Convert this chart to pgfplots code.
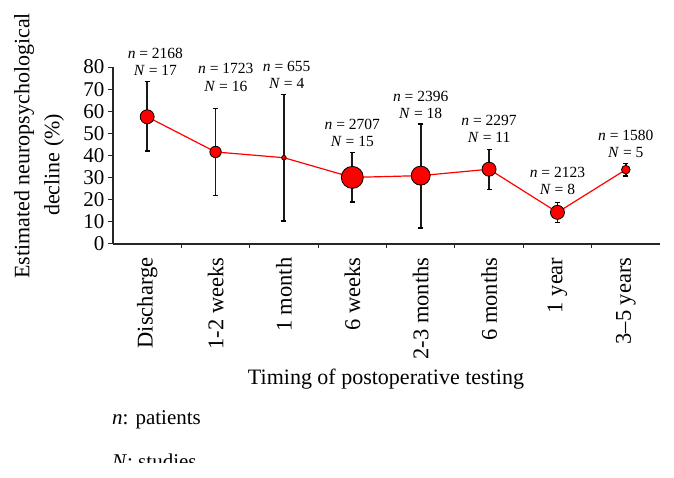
\documentclass[border=0pt]{standalone}
\usepackage{fontspec}
\setmainfont{Liberation Serif}
\usepackage{pgfplots}
\pgfplotsset{compat=1.18}
\usepackage{pgfplotstable}

% x = category index, y = estimate, ep/em = error bar plus/minus, r = marker radius
\pgfplotstableread{
x y    ep   em   r
0 57.5 16.0 15.5 7.0
1 41.6 19.7 19.8 5.7
2 39.0 28.7 28.6 2.3
3 30.1 11.3 11.1 11.0
4 30.9 23.3 23.7 9.5
5 33.8 8.8  9.1  7.0
6 14.3 4.4  4.5  7.0
7 33.6 2.9  2.9  4.3
}\declinedata

\begin{document}
\begin{tikzpicture}
\begin{axis}[
    at={(0,0)}, anchor=south west, scale only axis,
    width=547pt, height=177pt,
    xmin=-0.5, xmax=7.5, ymin=0, ymax=80,
    axis x line=bottom, axis y line=left,
    axis line style={-, line width=1.2pt, black!85},
    clip=false,
    ytick={0,10,...,80},
    xtick={0,...,7},
    xticklabels={Discharge, 1-2 weeks, 1 month, 6 weeks, 2-3 months, 6 months, 1 year, 3--5 years},
    minor xtick={0.5,1.5,...,6.5},
    major x tick style={draw=none},
    tick align=outside,
    major tick length=5pt, minor tick length=4pt,
    tick style={line width=1pt, black!85},
    /pgf/number format/assume math mode=true,
    yticklabel style={font=\fontsize{21}{24}\selectfont},
    xticklabel style={rotate=90, anchor=east, font=\fontsize{22.5}{24}\selectfont},
    xticklabel shift=5pt,
]
\addplot[red, line width=1.2pt, mark=*, scatter, point meta=explicit,
    scatter/use mapped color={draw=black, fill=red},
    mark options={line width=0.8pt},
    visualization depends on={\thisrow{r} \as \rad},
    scatter/@pre marker code/.append style={/tikz/mark size=\rad},
    error bars/.cd, y dir=both, y explicit,
    error bar style={black!90, line width=1.8pt},
    error mark options={rotate=90, mark size=2.5pt, black, line width=1.3pt}]
  table[x=x, y=y, y error plus=ep, y error minus=em, meta=r] {\declinedata};

\tikzset{ann/.style={anchor=south, inner sep=0pt, align=center, font=\fontsize{15.5}{17.5}\selectfont}}
\node[ann] at (axis cs:0.12,75.9) {\textit{n} = 2168\\\textit{N} = 17};
\node[ann] at (axis cs:1.15,68.8) {\textit{n} = 1723\\\textit{N} = 16};
\node[ann] at (axis cs:2.04,70.1) {\textit{n} = 655\\\textit{N} = 4};
\node[ann] at (axis cs:3,43.8) {\textit{n} = 2707\\\textit{N} = 15};
\node[ann] at (axis cs:4,56.5) {\textit{n} = 2396\\\textit{N} = 18};
\node[ann] at (axis cs:5,45.6) {\textit{n} = 2297\\\textit{N} = 11};
\node[ann] at (axis cs:6,22.1) {\textit{n} = 2123\\\textit{N} = 8};
\node[ann] at (axis cs:7,38.9) {\textit{n} = 1580\\\textit{N} = 5};
\end{axis}

\node[rotate=90, font=\fontsize{22}{24}\selectfont] at (-89pt,98pt) {Estimated neuropsychological};
\node[rotate=90, font=\fontsize{22}{24}\selectfont] at (-59pt,79pt) {decline (\%)};
\node[anchor=base, font=\fontsize{22}{24}\selectfont] at (273pt,-141pt) {Timing of postoperative testing};
\node[anchor=base west, inner sep=0pt, font=\fontsize{21}{24}\selectfont] at (-1pt,-181pt) {\textit{n}: patients};
\begin{scope}
  \clip (-113pt,-219pt) rectangle (561pt,-200pt);
  \node[anchor=base west, inner sep=0pt, font=\fontsize{21}{24}\selectfont] at (-1pt,-225pt) {\textit{N}: studies};
\end{scope}
\pgfresetboundingbox
\path[use as bounding box] (-113pt,-234pt) rectangle (561pt,244pt);
\end{tikzpicture}
\end{document}
